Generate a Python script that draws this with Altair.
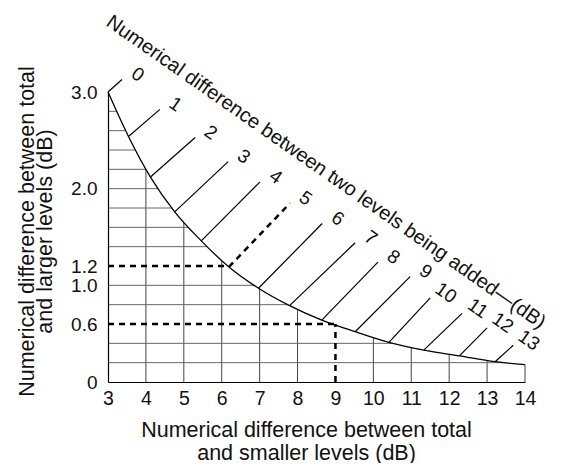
import altair as alt
import pandas as pd

# Curve points: level difference 0..13 dB, plus the end of the curve at x = 14
level_diff = [0, 1, 2, 3, 4, 5, 6, 7, 8, 9, 10, 11, 12, 13]
curve_x = [3.00, 3.54, 4.12, 4.76, 5.46, 6.19, 6.97, 7.79, 8.64, 9.52, 10.41, 11.33, 12.27, 13.21, 14.00]
curve_y = [3.00, 2.54, 2.12, 1.76, 1.46, 1.19, 0.97, 0.79, 0.64, 0.52, 0.41, 0.33, 0.27, 0.21, 0.18]
# outer ends of the diagonal lines
end_x = [3.37, 4.37, 5.30, 6.17, 7.01, 7.80, 8.65, 9.52, 10.12, 10.97, 11.50, 12.34, 13.00, 13.69]
end_y = [3.13, 2.82, 2.53, 2.28, 2.07, 1.85, 1.64, 1.44, 1.24, 1.09, 0.87, 0.71, 0.56, 0.38]
dashed_level = 5

grid_x = [4, 5, 6, 7, 8, 10, 11, 12, 13]
grid_y = [0.2, 0.4, 0.8, 1.0, 1.4, 1.6, 1.8, 2.0, 2.2, 2.4, 2.6, 2.8]
x_ticks = [3, 4, 5, 6, 7, 8, 9, 10, 11, 12, 13, 14]
y_ticks = [0, 0.6, 1.0, 1.2, 2.0, 3.0]
x_domain = [3, 14]
y_domain = [0, 3]

# dashed worked-example lines
dash_x = [3, 3, 9]
dash_x2 = [6.17, 9, 9]
dash_y = [1.2, 0.6, 0]
dash_y2 = [1.2, 0.6, 0.6]

top_title = "Numerical difference between two levels being added\u2014(dB)"
top_title_x = [8.75]
top_title_y = [2.17]

FONT = "Liberation Sans"
INK = "#111111"

xs = alt.Scale(domain=x_domain, nice=False, zero=False)
ys = alt.Scale(domain=y_domain, nice=False, zero=False)

xaxis = alt.Axis(
    values=x_ticks, format="d", grid=False, ticks=False, tickSize=0,
    domainColor="black", domainWidth=1.2, labelFontSize=19.5, labelPadding=7,
    labelColor=INK, labelFlush=False, labelOverlap=False,
    title=["Numerical difference between total", "and smaller levels (dB)"],
    titleFontSize=21.5, titleFontWeight="normal", titleColor=INK,
    titleX=198, titleY=54, titleBaseline="alphabetic", titleAlign="center",
    titleLineHeight=23, zindex=1,
)
yaxis = alt.Axis(
    values=y_ticks, labelExpr="datum.value == 0 ? '0' : format(datum.value, '.1f')",
    grid=False, ticks=False, tickSize=0, domainColor="black", domainWidth=1.2,
    labelFontSize=19, labelPadding=11, labelColor=INK, labelFlush=False,
    labelOverlap=False,
    title=["Numerical difference between total", "and larger levels (dB)"],
    titleFontSize=21.5, titleFontWeight="normal", titleColor=INK,
    titleX=-75, titleY=139, titleAngle=-90, titleBaseline="alphabetic",
    titleAlign="center", titleLineHeight=18, zindex=1,
)


def X(f):
    return alt.X(f, type="quantitative", scale=xs, axis=xaxis)


def Y(f):
    return alt.Y(f, type="quantitative", scale=ys, axis=yaxis)


curve = pd.DataFrame({"x": curve_x, "y": curve_y, "top": y_domain[1]})
diag = pd.DataFrame({
    "d": level_diff, "sx": curve_x[:len(level_diff)], "sy": curve_y[:len(level_diff)],
    "ex": end_x, "ey": end_y, "label": [str(v) for v in level_diff],
})
diag_solid = diag[diag["d"] != dashed_level]
diag_dash = diag[diag["d"] == dashed_level]
gx = pd.DataFrame({"gx": grid_x, "lo": y_domain[0], "hi": y_domain[1]})
gy = pd.DataFrame({"gy": grid_y, "lo": x_domain[0], "hi": x_domain[1]})
dash = pd.DataFrame({"x": dash_x, "x2": dash_x2, "y": dash_y, "y2": dash_y2})
last = pd.DataFrame({"x": curve_x[-1:], "y": curve_y[-1:], "lo": y_domain[0]})
ttl = pd.DataFrame({"x": top_title_x, "y": top_title_y, "t": [top_title]})

grid_v = alt.Chart(gx).mark_rule(color="#444444", strokeWidth=1).encode(
    x=X("gx"), y=Y("lo"), y2="hi:Q")
grid_h = alt.Chart(gy).mark_rule(color="#666666", strokeWidth=1).encode(
    y=Y("gy"), x=X("lo"), x2="hi:Q")
mask = alt.Chart(curve).mark_area(color="white", interpolate="monotone", opacity=1).encode(
    x=X("x"), y=Y("y"), y2="top:Q")
grid_end = alt.Chart(last).mark_rule(color="#444444", strokeWidth=1).encode(
    x=X("x"), y=Y("lo"), y2="y:Q")
line = alt.Chart(curve).mark_line(color="black", strokeWidth=1.3, interpolate="monotone").encode(
    x=X("x"), y=Y("y"))
diag_lines = alt.Chart(diag_solid).mark_rule(color="black", strokeWidth=1.2).encode(
    x=X("sx"), y=Y("sy"), x2="ex:Q", y2="ey:Q")
diag_dashed = alt.Chart(diag_dash).mark_rule(color="black", strokeWidth=2.5, strokeDash=[6, 5]).encode(
    x=X("sx"), y=Y("sy"), x2="ex:Q", y2="ey:Q")
dashes = alt.Chart(dash).mark_rule(color="black", strokeWidth=2.5, strokeDash=[6, 5]).encode(
    x=X("x"), y=Y("y"), x2="x2:Q", y2="y2:Q")
labels = alt.Chart(diag).mark_text(
    font=FONT, fontSize=19, color=INK, angle=35, dx=10, dy=-13,
    align="center", baseline="middle").encode(x=X("ex"), y=Y("ey"), text="label:N")
title_txt = alt.Chart(ttl).mark_text(
    font=FONT, fontSize=20, color=INK, angle=35, align="center", baseline="middle"
).encode(x=X("x"), y=Y("y"), text="t:N")

chart = alt.layer(
    grid_v, grid_h, mask, grid_end, line, diag_lines, diag_dashed, dashes, labels, title_txt
).properties(
    width=417, height=290,
    autosize=alt.AutoSizeParams(type="none"),
    padding={"left": 100, "top": 84, "right": 34, "bottom": 81},
).configure(font=FONT).configure_view(stroke=None)

chart.save("out.html", embed_options={"renderer": "svg", "actions": False})
